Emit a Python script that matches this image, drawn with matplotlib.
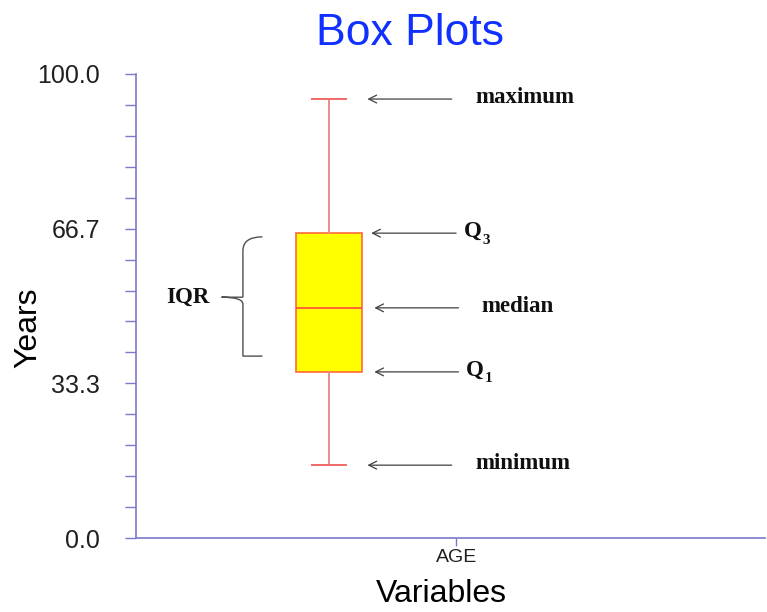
import matplotlib.pyplot as plt
from matplotlib.path import Path
from matplotlib.patches import PathPatch

# box plot summary for AGE
variables = ['AGE']
minimum = [15.7]
q1 = [35.8]
median = [49.6]
q3 = [65.7]
maximum = [94.6]

y_major = [0.0, 100 / 3, 200 / 3, 100.0]
y_labels = ['0.0', '33.3', '66.7', '100.0']

axis_col = '#7a7ac8'

fig = plt.figure(figsize=(7.67, 6.12), dpi=100)
ax = fig.add_axes([0.1773, 0.1209, 0.8200, 0.7582])

stats = [dict(label=v, whislo=lo, q1=a, med=m, q3=b, whishi=hi)
         for v, lo, a, m, b, hi in zip(variables, minimum, q1, median, q3, maximum)]
ax.bxp(stats, positions=[0.307], widths=0.106, patch_artist=True, showfliers=False,
       boxprops=dict(facecolor='#ffff00', edgecolor='#ff6a3a', lw=1.2),
       medianprops=dict(color='#ff4a3a', lw=1.2),
       whiskerprops=dict(color='#f08a8a', lw=1.4),
       capprops=dict(color='#f06a6a', lw=1.4))

ax.set_xlim(0, 1)
ax.set_ylim(0, 100)
ax.set_xticks([0.509])
ax.set_xticklabels(variables, fontsize=14, family='Liberation Sans')
ax.set_yticks(y_major)
ax.set_yticklabels(y_labels, fontsize=18, family='Liberation Sans')
ax.set_yticks([i * 100 / 15 for i in range(16)], minor=True)
ax.tick_params(axis='y', which='both', direction='out', length=8, width=1, colors=axis_col,
               labelcolor='#202020', pad=18)
ax.tick_params(axis='x', direction='out', length=6, width=1, colors=axis_col,
               labelcolor='#202020', pad=2)
for s in ['top', 'right']:
    ax.spines[s].set_visible(False)
for s in ['left', 'bottom']:
    ax.spines[s].set_color(axis_col)
    ax.spines[s].set_linewidth(1.2)

fig.text(0.535, 0.946, 'Box Plots', fontsize=32, color='#1030ff', family='Liberation Sans',
         ha='center', va='center')
fig.text(0.037, 0.464, 'Years', fontsize=23, family='Liberation Sans', rotation=90,
         ha='center', va='center')
fig.text(0.576, 0.030, 'Variables', fontsize=23, family='Liberation Sans',
         ha='center', va='center')

# annotations: (text, subscript, value, arrow tip, arrow tail, text x)
labels = [('maximum', '', maximum[0], 0.368, 0.502, 0.539),
          ('Q', '3', q3[0], 0.374, 0.509, 0.521),
          ('median', '', median[0], 0.379, 0.513, 0.550),
          ('Q', '1', q1[0], 0.379, 0.513, 0.525),
          ('minimum', '', minimum[0], 0.368, 0.502, 0.539)]
for txt, sub, yv, tip, tail, tx in labels:
    ax.annotate('', xy=(tip, yv), xytext=(tail, yv),
                arrowprops=dict(arrowstyle='->', color='#404040', lw=0.9, shrinkA=0, shrinkB=0,
                                mutation_scale=14))
    ax.text(tx, yv + 0.4, txt, fontsize=16.5, family='Liberation Serif', fontweight='bold',
            va='center', ha='left', color='#101010')
    if sub:
        ax.annotate(sub, xy=(tx, yv), xytext=(13.5, -5), textcoords='offset points',
                    fontsize=11, family='Liberation Serif', fontweight='bold',
                    va='center', ha='left', color='#101010')

# brace for IQR
xe, xm, xt = 0.201, 0.170, 0.136
yt, yb, yc = 64.9, 39.2, 51.9
verts = [(xe, yt), (xm, yt), (xm, yt - 3), (xm, yt - 6),
         (xm, yc + 1.5), (xm, yc), (xt, yc),
         (xm, yc), (xm, yc - 1.5), (xm, yb + 6),
         (xm, yb + 3), (xm, yb), (xe, yb)]
codes = [Path.MOVETO, Path.CURVE3, Path.CURVE3, Path.LINETO,
         Path.CURVE3, Path.CURVE3, Path.LINETO,
         Path.CURVE3, Path.CURVE3, Path.LINETO,
         Path.CURVE3, Path.CURVE3, Path.LINETO]
ax.add_patch(PathPatch(Path(verts, codes), facecolor='none', edgecolor='#505050', lw=1.0,
                       clip_on=False))
ax.text(0.117, yc, 'IQR', fontsize=16.5, family='Liberation Serif', fontweight='bold',
        ha='right', va='center', color='#101010')

fig.savefig('out.png', dpi=100)
